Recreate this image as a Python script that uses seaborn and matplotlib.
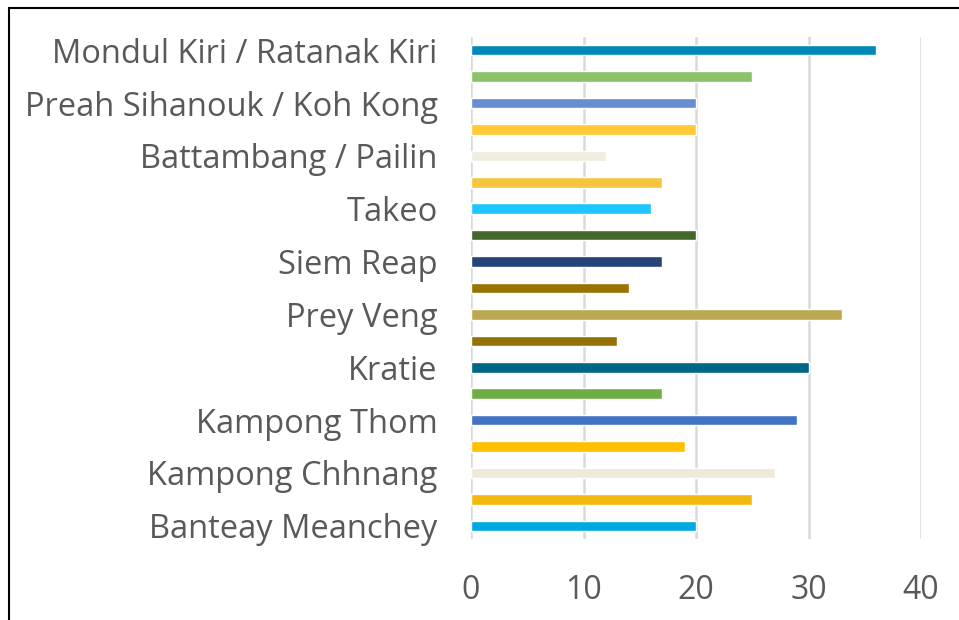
import pandas as pd
import matplotlib.pyplot as plt
import seaborn as sns
from matplotlib.patches import Rectangle

# bars listed top to bottom; Excel only labels every other category
labels = ["Mondul Kiri / Ratanak Kiri", "", "Preah Sihanouk / Koh Kong", "",
          "Battambang / Pailin", "", "Takeo", "", "Siem Reap", "",
          "Prey Veng", "", "Kratie", "", "Kampong Thom", "",
          "Kampong Chhnang", "", "Banteay Meanchey"]
values = [36, 25, 20, 20, 12, 17, 16, 20, 17, 14, 33, 13, 30, 17, 29, 19, 27, 25, 20]
colors = ["#0089B8", "#8CC168", "#698ED0", "#FFCA33", "#F0ECDE", "#F5C540",
          "#1FC5FF", "#43682B", "#264478", "#997300", "#BDA852", "#937106",
          "#006688", "#70AD47", "#4472C4", "#FFC000", "#EEE9D8", "#F4B80F",
          "#00A9E0"]
xticks = [0, 10, 20, 30, 40]

sns.set_style("white")
plt.rcParams['font.family'] = ['Open Sans', 'DejaVu Sans']

df = pd.DataFrame({"slot": [str(i) for i in range(len(values))], "value": values})

fig = plt.figure(figsize=(9.59, 6.2), dpi=100)
ax = fig.add_axes([471 / 959, 1 - 539 / 620, (921 - 471) / 959, (539 - 37) / 620])

sns.barplot(data=df, x="value", y="slot", hue="slot", palette=colors,
            saturation=1, legend=False, width=0.4, orient="h", ax=ax, zorder=3)

ax.set_xlim(0, 40)
ax.set_xticks(xticks)
ax.set_yticks(range(len(labels)))
ax.set_yticklabels(labels)
ax.set_xlabel("")
ax.set_ylabel("")
ax.grid(axis="x", color="#D9D9D9", linewidth=1.8, zorder=0)
ax.grid(axis="y", visible=False)
for s in ax.spines.values():
    s.set_visible(False)
ax.tick_params(axis="y", length=0, pad=24, labelsize=23.5, labelcolor="#595959")
ax.tick_params(axis="x", length=6, width=1.8, color="#D9D9D9", pad=19,
               labelsize=23, labelcolor="#595959")

fig.patches.append(Rectangle((9 / 959, -0.05), 1.1, 1 - 8 / 620 + 0.05,
                             transform=fig.transFigure, fill=False,
                             edgecolor="black", linewidth=1.5))

fig.savefig("out.png", dpi=100)
